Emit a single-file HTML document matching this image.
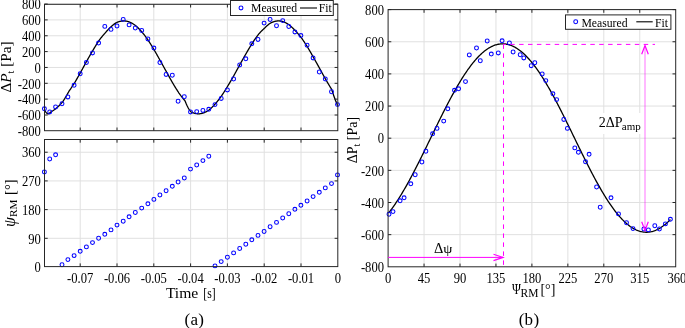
<!DOCTYPE html>
<html><head><meta charset="utf-8"><style>
html,body{margin:0;padding:0;background:#fff;width:685px;height:328px;overflow:hidden}
svg{display:block;will-change:transform;filter:blur(0.3px);}
text{font-family:"Liberation Serif",serif;fill:#000}
</style></head><body>
<svg width="685" height="328" viewBox="0 0 685 328">
<line x1="44.50" y1="115.00" x2="337.80" y2="115.00" stroke="#e0e0e0" stroke-width="1" />
<line x1="44.50" y1="99.15" x2="337.80" y2="99.15" stroke="#e0e0e0" stroke-width="1" />
<line x1="44.50" y1="83.30" x2="337.80" y2="83.30" stroke="#e0e0e0" stroke-width="1" />
<line x1="44.50" y1="67.45" x2="337.80" y2="67.45" stroke="#e0e0e0" stroke-width="1" />
<line x1="44.50" y1="51.60" x2="337.80" y2="51.60" stroke="#e0e0e0" stroke-width="1" />
<line x1="44.50" y1="35.75" x2="337.80" y2="35.75" stroke="#e0e0e0" stroke-width="1" />
<line x1="44.50" y1="19.90" x2="337.80" y2="19.90" stroke="#e0e0e0" stroke-width="1" />
<line x1="44.50" y1="4.05" x2="337.80" y2="4.05" stroke="#e0e0e0" stroke-width="1" />
<line x1="80.20" y1="4.30" x2="80.20" y2="130.70" stroke="#e0e0e0" stroke-width="1" />
<line x1="117.00" y1="4.30" x2="117.00" y2="130.70" stroke="#e0e0e0" stroke-width="1" />
<line x1="153.80" y1="4.30" x2="153.80" y2="130.70" stroke="#e0e0e0" stroke-width="1" />
<line x1="190.60" y1="4.30" x2="190.60" y2="130.70" stroke="#e0e0e0" stroke-width="1" />
<line x1="227.40" y1="4.30" x2="227.40" y2="130.70" stroke="#e0e0e0" stroke-width="1" />
<line x1="264.20" y1="4.30" x2="264.20" y2="130.70" stroke="#e0e0e0" stroke-width="1" />
<line x1="301.00" y1="4.30" x2="301.00" y2="130.70" stroke="#e0e0e0" stroke-width="1" />
<path d="M44.40,109.42 L44.77,110.23 L45.13,110.96 L45.50,111.61 L45.87,112.17 L46.24,112.66 L46.60,113.06 L46.97,113.37 L47.34,113.60 L47.70,113.75 L48.07,113.81 L48.44,113.78 L48.81,113.67 L49.17,113.48 L49.54,113.19 L49.91,112.83 L50.28,112.38 L50.64,111.98 L51.01,111.80 L51.38,111.60 L51.74,111.40 L52.11,111.19 L52.48,110.98 L52.85,110.75 L53.21,110.52 L53.58,110.27 L53.95,110.02 L54.31,109.76 L54.68,109.50 L55.05,109.22 L55.42,108.94 L55.78,108.65 L56.15,108.35 L56.52,108.04 L56.89,107.72 L57.25,107.40 L57.62,107.07 L57.99,106.73 L58.35,106.38 L58.72,106.03 L59.09,105.67 L59.46,105.30 L59.82,104.92 L60.19,104.54 L60.56,104.15 L60.92,103.75 L61.29,103.34 L61.66,102.93 L62.03,102.51 L62.39,102.08 L62.76,101.65 L63.13,101.10 L63.49,100.55 L63.86,99.99 L64.23,99.41 L64.60,98.83 L64.96,98.24 L65.33,97.64 L65.70,97.03 L66.07,96.41 L66.43,95.78 L66.80,95.15 L67.17,94.50 L67.53,93.85 L67.90,93.19 L68.27,92.52 L68.64,91.85 L69.00,91.23 L69.37,90.70 L69.74,90.17 L70.10,89.64 L70.47,89.09 L70.84,88.55 L71.21,88.00 L71.57,87.45 L71.94,86.89 L72.31,86.34 L72.68,85.77 L73.04,85.21 L73.41,84.64 L73.78,84.07 L74.14,83.49 L74.51,82.92 L74.88,82.34 L75.25,81.72 L75.61,81.09 L75.98,80.46 L76.35,79.83 L76.71,79.19 L77.08,78.55 L77.45,77.91 L77.82,77.26 L78.18,76.62 L78.55,75.97 L78.92,75.32 L79.28,74.67 L79.65,74.02 L80.02,73.36 L80.39,72.71 L80.75,72.05 L81.12,71.39 L81.49,70.72 L81.86,70.05 L82.22,69.37 L82.59,68.70 L82.96,68.02 L83.32,67.35 L83.69,66.67 L84.06,66.00 L84.43,65.32 L84.79,64.65 L85.16,63.97 L85.53,63.30 L85.89,62.63 L86.26,61.96 L86.63,61.29 L87.00,60.62 L87.36,59.96 L87.73,59.31 L88.10,58.66 L88.47,58.01 L88.83,57.36 L89.20,56.72 L89.57,56.08 L89.93,55.44 L90.30,54.80 L90.67,54.17 L91.04,53.54 L91.40,52.91 L91.77,52.28 L92.14,51.66 L92.50,51.04 L92.87,50.43 L93.24,49.81 L93.61,49.19 L93.97,48.57 L94.34,47.96 L94.71,47.35 L95.07,46.74 L95.44,46.14 L95.81,45.54 L96.18,44.94 L96.54,44.35 L96.91,43.77 L97.28,43.19 L97.65,42.62 L98.01,42.05 L98.38,41.48 L98.75,40.93 L99.11,40.37 L99.48,39.84 L99.85,39.36 L100.22,38.88 L100.58,38.41 L100.95,37.95 L101.32,37.49 L101.68,37.03 L102.05,36.58 L102.42,36.14 L102.79,35.70 L103.15,35.26 L103.52,34.83 L103.89,34.41 L104.26,33.99 L104.62,33.57 L104.99,33.17 L105.36,32.76 L105.72,32.34 L106.09,31.90 L106.46,31.47 L106.83,31.04 L107.19,30.63 L107.56,30.22 L107.93,29.82 L108.29,29.42 L108.66,29.04 L109.03,28.66 L109.40,28.29 L109.76,27.93 L110.13,27.58 L110.50,27.24 L110.86,26.90 L111.23,26.57 L111.60,26.25 L111.97,25.92 L112.33,25.59 L112.70,25.28 L113.07,24.97 L113.44,24.68 L113.80,24.39 L114.17,24.12 L114.54,23.85 L114.90,23.60 L115.27,23.36 L115.64,23.13 L116.01,22.91 L116.37,22.71 L116.74,22.51 L117.11,22.33 L117.47,22.15 L117.84,22.00 L118.21,21.87 L118.58,21.76 L118.94,21.65 L119.31,21.55 L119.68,21.45 L120.05,21.37 L120.41,21.29 L120.78,21.22 L121.15,21.16 L121.51,21.10 L121.88,21.05 L122.25,21.01 L122.62,20.98 L122.98,20.96 L123.35,20.94 L123.72,20.93 L124.08,20.93 L124.45,20.94 L124.82,20.96 L125.19,20.99 L125.55,21.02 L125.92,21.07 L126.29,21.13 L126.65,21.20 L127.02,21.27 L127.39,21.36 L127.76,21.46 L128.12,21.56 L128.49,21.68 L128.86,21.81 L129.23,21.94 L129.59,22.09 L129.96,22.24 L130.33,22.40 L130.69,22.57 L131.06,22.75 L131.43,22.94 L131.80,23.13 L132.16,23.34 L132.53,23.55 L132.90,23.77 L133.26,24.01 L133.63,24.25 L134.00,24.50 L134.37,24.75 L134.73,25.02 L135.10,25.29 L135.47,25.58 L135.84,25.87 L136.20,26.17 L136.57,26.49 L136.94,26.81 L137.30,27.15 L137.67,27.49 L138.04,27.84 L138.41,28.20 L138.77,28.56 L139.14,28.94 L139.51,29.32 L139.87,29.71 L140.24,30.11 L140.61,30.52 L140.98,30.94 L141.34,31.36 L141.71,31.79 L142.08,32.23 L142.44,32.66 L142.81,33.11 L143.18,33.56 L143.55,34.01 L143.91,34.47 L144.28,34.94 L144.65,35.42 L145.02,35.90 L145.38,36.39 L145.75,36.88 L146.12,37.38 L146.48,37.89 L146.85,38.40 L147.22,38.92 L147.59,39.45 L147.95,39.98 L148.32,40.51 L148.69,41.07 L149.05,41.63 L149.42,42.19 L149.79,42.76 L150.16,43.34 L150.52,43.92 L150.89,44.50 L151.26,45.09 L151.63,45.69 L151.99,46.29 L152.36,46.89 L152.73,47.50 L153.09,48.11 L153.46,48.73 L153.83,49.35 L154.20,49.97 L154.56,50.60 L154.93,51.23 L155.30,51.87 L155.66,52.51 L156.03,53.15 L156.40,53.79 L156.77,54.44 L157.13,55.09 L157.50,55.74 L157.87,56.40 L158.23,57.05 L158.60,57.71 L158.97,58.38 L159.34,59.04 L159.70,59.70 L160.07,60.37 L160.44,61.04 L160.81,61.70 L161.17,62.35 L161.54,63.01 L161.91,63.67 L162.27,64.33 L162.64,64.98 L163.01,65.64 L163.38,66.30 L163.74,66.96 L164.11,67.62 L164.48,68.28 L164.84,68.94 L165.21,69.60 L165.58,70.26 L165.95,70.92 L166.31,71.58 L166.68,72.24 L167.05,72.91 L167.42,73.58 L167.78,74.25 L168.15,74.91 L168.52,75.58 L168.88,76.24 L169.25,76.90 L169.62,77.56 L169.99,78.22 L170.35,78.88 L170.72,79.53 L171.09,80.18 L171.45,80.83 L171.82,81.47 L172.19,82.11 L172.56,82.75 L172.92,83.38 L173.29,84.00 L173.66,84.62 L174.02,85.23 L174.39,85.83 L174.76,86.44 L175.13,87.04 L175.49,87.63 L175.86,88.23 L176.23,88.81 L176.60,89.40 L176.96,89.97 L177.33,90.55 L177.70,91.12 L178.06,91.68 L178.43,92.24 L178.80,92.80 L179.17,93.32 L179.53,93.82 L179.90,94.33 L180.27,94.82 L180.63,95.32 L181.00,95.80 L181.37,96.29 L181.74,96.77 L182.10,97.24 L182.47,97.71 L182.84,98.17 L183.21,98.62 L183.57,99.08 L183.94,99.52 L184.31,99.96 L184.67,100.40 L185.04,100.90 L185.41,101.83 L185.78,102.73 L186.14,103.60 L186.51,104.44 L186.88,105.25 L187.24,106.02 L187.61,106.76 L187.98,107.47 L188.35,108.14 L188.71,108.78 L189.08,109.38 L189.45,109.94 L189.81,110.47 L190.18,110.96 L190.55,111.41 L190.92,111.83 L191.28,112.10 L191.65,112.27 L192.02,112.43 L192.39,112.57 L192.75,112.71 L193.12,112.85 L193.49,112.97 L193.85,113.08 L194.22,113.19 L194.59,113.29 L194.96,113.38 L195.32,113.46 L195.69,113.53 L196.06,113.60 L196.42,113.65 L196.79,113.70 L197.16,113.74 L197.53,113.77 L197.89,113.80 L198.26,113.81 L198.63,113.81 L198.99,113.80 L199.36,113.79 L199.73,113.76 L200.10,113.72 L200.46,113.68 L200.83,113.62 L201.20,113.56 L201.57,113.48 L201.93,113.40 L202.30,113.30 L202.67,113.20 L203.03,113.08 L203.40,112.96 L203.77,112.83 L204.14,112.68 L204.50,112.53 L204.87,112.37 L205.24,112.19 L205.60,112.01 L205.97,111.82 L206.34,111.62 L206.71,111.41 L207.07,111.19 L207.44,110.97 L207.81,110.73 L208.18,110.48 L208.54,110.23 L208.91,109.96 L209.28,109.69 L209.64,109.40 L210.01,109.10 L210.38,108.79 L210.75,108.48 L211.11,108.15 L211.48,107.81 L211.85,107.47 L212.21,107.12 L212.58,106.75 L212.95,106.38 L213.32,106.00 L213.68,105.61 L214.05,105.22 L214.42,104.81 L214.78,104.40 L215.15,103.98 L215.52,103.55 L215.89,103.13 L216.25,102.70 L216.62,102.27 L216.99,101.83 L217.36,101.38 L217.72,100.93 L218.09,100.47 L218.46,100.01 L218.82,99.53 L219.19,99.05 L219.56,98.57 L219.93,98.08 L220.29,97.58 L220.66,97.07 L221.03,96.56 L221.39,96.05 L221.76,95.52 L222.13,94.98 L222.50,94.44 L222.86,93.88 L223.23,93.33 L223.60,92.76 L223.97,92.20 L224.33,91.62 L224.70,91.04 L225.07,90.46 L225.43,89.87 L225.80,89.28 L226.17,88.68 L226.54,88.08 L226.90,87.47 L227.27,86.86 L227.64,86.25 L228.00,85.64 L228.37,85.03 L228.74,84.42 L229.11,83.80 L229.47,83.18 L229.84,82.56 L230.21,81.93 L230.57,81.31 L230.94,80.68 L231.31,80.04 L231.68,79.41 L232.04,78.77 L232.41,78.13 L232.78,77.48 L233.15,76.84 L233.51,76.19 L233.88,75.54 L234.25,74.88 L234.61,74.21 L234.98,73.54 L235.35,72.87 L235.72,72.20 L236.08,71.53 L236.45,70.85 L236.82,70.18 L237.18,69.51 L237.55,68.83 L237.92,68.16 L238.29,67.48 L238.65,66.81 L239.02,66.13 L239.39,65.46 L239.76,64.78 L240.12,64.11 L240.49,63.45 L240.86,62.80 L241.22,62.14 L241.59,61.48 L241.96,60.83 L242.33,60.18 L242.69,59.53 L243.06,58.88 L243.43,58.23 L243.79,57.58 L244.16,56.94 L244.53,56.30 L244.90,55.66 L245.26,55.02 L245.63,54.38 L246.00,53.75 L246.36,53.11 L246.73,52.47 L247.10,51.83 L247.47,51.20 L247.83,50.57 L248.20,49.94 L248.57,49.32 L248.94,48.70 L249.30,48.08 L249.67,47.47 L250.04,46.86 L250.40,46.25 L250.77,45.66 L251.14,45.06 L251.51,44.47 L251.87,43.89 L252.24,43.31 L252.61,42.73 L252.97,42.16 L253.34,41.60 L253.71,41.04 L254.08,40.48 L254.44,39.94 L254.81,39.39 L255.18,38.86 L255.55,38.33 L255.91,37.80 L256.28,37.29 L256.65,36.78 L257.01,36.27 L257.38,35.77 L257.75,35.28 L258.12,34.80 L258.48,34.34 L258.85,33.92 L259.22,33.51 L259.58,33.10 L259.95,32.70 L260.32,32.31 L260.69,31.92 L261.05,31.53 L261.42,31.15 L261.79,30.78 L262.15,30.42 L262.52,30.06 L262.89,29.70 L263.26,29.36 L263.62,29.02 L263.99,28.68 L264.36,28.35 L264.73,27.98 L265.09,27.59 L265.46,27.22 L265.83,26.85 L266.19,26.50 L266.56,26.15 L266.93,25.82 L267.30,25.50 L267.66,25.18 L268.03,24.88 L268.40,24.59 L268.76,24.31 L269.13,24.04 L269.50,23.78 L269.87,23.53 L270.23,23.29 L270.60,23.07 L270.97,22.87 L271.34,22.69 L271.70,22.51 L272.07,22.35 L272.44,22.19 L272.80,22.04 L273.17,21.90 L273.54,21.77 L273.91,21.65 L274.27,21.54 L274.64,21.44 L275.01,21.35 L275.37,21.26 L275.74,21.19 L276.11,21.12 L276.48,21.07 L276.84,21.02 L277.21,20.98 L277.58,20.96 L277.94,20.94 L278.31,20.93 L278.68,20.93 L279.05,20.94 L279.41,20.97 L279.78,21.00 L280.15,21.04 L280.52,21.09 L280.88,21.15 L281.25,21.22 L281.62,21.30 L281.98,21.39 L282.35,21.49 L282.72,21.60 L283.09,21.72 L283.45,21.84 L283.82,21.98 L284.19,22.12 L284.55,22.27 L284.92,22.43 L285.29,22.61 L285.66,22.79 L286.02,22.98 L286.39,23.17 L286.76,23.38 L287.13,23.60 L287.49,23.82 L287.86,24.06 L288.23,24.30 L288.59,24.55 L288.96,24.81 L289.33,25.08 L289.70,25.37 L290.06,25.66 L290.43,25.96 L290.80,26.27 L291.16,26.59 L291.53,26.92 L291.90,27.25 L292.27,27.60 L292.63,27.95 L293.00,28.31 L293.37,28.68 L293.73,29.06 L294.10,29.45 L294.47,29.84 L294.84,30.24 L295.20,30.63 L295.57,31.01 L295.94,31.39 L296.31,31.79 L296.67,32.18 L297.04,32.59 L297.41,33.00 L297.77,33.41 L298.14,33.83 L298.51,34.26 L298.88,34.70 L299.24,35.13 L299.61,35.58 L299.98,36.03 L300.34,36.49 L300.71,36.95 L301.08,37.41 L301.45,37.92 L301.81,38.43 L302.18,38.95 L302.55,39.47 L302.92,40.00 L303.28,40.54 L303.65,41.08 L304.02,41.63 L304.38,42.18 L304.75,42.74 L305.12,43.30 L305.49,43.86 L305.85,44.44 L306.22,45.01 L306.59,45.59 L306.95,46.18 L307.32,46.77 L307.69,47.38 L308.06,47.99 L308.42,48.61 L308.79,49.23 L309.16,49.85 L309.52,50.48 L309.89,51.11 L310.26,51.74 L310.63,52.38 L310.99,53.02 L311.36,53.66 L311.73,54.31 L312.10,54.96 L312.46,55.61 L312.83,56.27 L313.20,56.92 L313.56,57.57 L313.93,58.22 L314.30,58.87 L314.67,59.52 L315.03,60.17 L315.40,60.82 L315.77,61.48 L316.13,62.13 L316.50,62.79 L316.87,63.44 L317.24,64.10 L317.60,64.76 L317.97,65.42 L318.34,66.08 L318.71,66.74 L319.07,67.40 L319.44,68.06 L319.81,68.73 L320.17,69.41 L320.54,70.08 L320.91,70.76 L321.28,71.43 L321.64,72.10 L322.01,72.77 L322.38,73.44 L322.74,74.11 L323.11,74.78 L323.48,75.45 L323.85,76.11 L324.21,76.77 L324.58,77.43 L324.95,78.09 L325.31,78.75 L325.68,79.40 L326.05,80.03 L326.42,80.67 L326.78,81.30 L327.15,81.92 L327.52,82.55 L327.89,83.17 L328.25,83.79 L328.62,84.41 L328.99,85.02 L329.35,85.63 L329.72,86.23 L330.09,86.83 L330.46,87.43 L330.82,88.02 L331.19,88.61 L331.56,89.20 L331.92,90.16 L332.29,91.31 L332.66,92.45 L333.03,93.56 L333.39,94.65 L333.76,95.72 L334.13,96.77 L334.50,97.79 L334.86,98.79 L335.23,99.76 L335.60,100.70 L335.96,101.62 L336.33,102.50 L336.70,103.36 L337.07,104.19 L337.43,104.99 L337.80,105.76" fill="none" stroke="#000" stroke-width="1.3" stroke-linejoin="round"/>
<circle cx="44.40" cy="108.80" r="1.95" fill="none" stroke="#0000ff" stroke-width="1.05"/>
<circle cx="49.70" cy="111.90" r="1.95" fill="none" stroke="#0000ff" stroke-width="1.05"/>
<circle cx="55.60" cy="107.00" r="1.95" fill="none" stroke="#0000ff" stroke-width="1.05"/>
<circle cx="62.00" cy="103.70" r="1.95" fill="none" stroke="#0000ff" stroke-width="1.05"/>
<circle cx="67.90" cy="96.90" r="1.95" fill="none" stroke="#0000ff" stroke-width="1.05"/>
<circle cx="74.10" cy="85.30" r="1.95" fill="none" stroke="#0000ff" stroke-width="1.05"/>
<circle cx="80.20" cy="73.80" r="1.95" fill="none" stroke="#0000ff" stroke-width="1.05"/>
<circle cx="86.40" cy="62.60" r="1.95" fill="none" stroke="#0000ff" stroke-width="1.05"/>
<circle cx="92.50" cy="52.90" r="1.95" fill="none" stroke="#0000ff" stroke-width="1.05"/>
<circle cx="98.60" cy="43.10" r="1.95" fill="none" stroke="#0000ff" stroke-width="1.05"/>
<circle cx="104.80" cy="26.40" r="1.95" fill="none" stroke="#0000ff" stroke-width="1.05"/>
<circle cx="111.00" cy="29.40" r="1.95" fill="none" stroke="#0000ff" stroke-width="1.05"/>
<circle cx="117.00" cy="26.00" r="1.95" fill="none" stroke="#0000ff" stroke-width="1.05"/>
<circle cx="123.20" cy="19.40" r="1.95" fill="none" stroke="#0000ff" stroke-width="1.05"/>
<circle cx="129.10" cy="24.90" r="1.95" fill="none" stroke="#0000ff" stroke-width="1.05"/>
<circle cx="135.30" cy="28.00" r="1.95" fill="none" stroke="#0000ff" stroke-width="1.05"/>
<circle cx="141.70" cy="30.40" r="1.95" fill="none" stroke="#0000ff" stroke-width="1.05"/>
<circle cx="147.90" cy="38.90" r="1.95" fill="none" stroke="#0000ff" stroke-width="1.05"/>
<circle cx="153.90" cy="48.10" r="1.95" fill="none" stroke="#0000ff" stroke-width="1.05"/>
<circle cx="159.90" cy="62.60" r="1.95" fill="none" stroke="#0000ff" stroke-width="1.05"/>
<circle cx="166.10" cy="74.40" r="1.95" fill="none" stroke="#0000ff" stroke-width="1.05"/>
<circle cx="172.30" cy="75.20" r="1.95" fill="none" stroke="#0000ff" stroke-width="1.05"/>
<circle cx="178.10" cy="101.20" r="1.95" fill="none" stroke="#0000ff" stroke-width="1.05"/>
<circle cx="184.30" cy="96.70" r="1.95" fill="none" stroke="#0000ff" stroke-width="1.05"/>
<circle cx="190.50" cy="111.90" r="1.95" fill="none" stroke="#0000ff" stroke-width="1.05"/>
<circle cx="196.70" cy="111.60" r="1.95" fill="none" stroke="#0000ff" stroke-width="1.05"/>
<circle cx="202.90" cy="110.40" r="1.95" fill="none" stroke="#0000ff" stroke-width="1.05"/>
<circle cx="208.80" cy="109.30" r="1.95" fill="none" stroke="#0000ff" stroke-width="1.05"/>
<circle cx="215.00" cy="104.60" r="1.95" fill="none" stroke="#0000ff" stroke-width="1.05"/>
<circle cx="221.20" cy="98.40" r="1.95" fill="none" stroke="#0000ff" stroke-width="1.05"/>
<circle cx="227.40" cy="89.90" r="1.95" fill="none" stroke="#0000ff" stroke-width="1.05"/>
<circle cx="233.60" cy="79.00" r="1.95" fill="none" stroke="#0000ff" stroke-width="1.05"/>
<circle cx="239.70" cy="65.00" r="1.95" fill="none" stroke="#0000ff" stroke-width="1.05"/>
<circle cx="245.80" cy="58.80" r="1.95" fill="none" stroke="#0000ff" stroke-width="1.05"/>
<circle cx="251.80" cy="43.80" r="1.95" fill="none" stroke="#0000ff" stroke-width="1.05"/>
<circle cx="258.00" cy="39.40" r="1.95" fill="none" stroke="#0000ff" stroke-width="1.05"/>
<circle cx="264.10" cy="23.10" r="1.95" fill="none" stroke="#0000ff" stroke-width="1.05"/>
<circle cx="270.10" cy="19.50" r="1.95" fill="none" stroke="#0000ff" stroke-width="1.05"/>
<circle cx="276.50" cy="25.70" r="1.95" fill="none" stroke="#0000ff" stroke-width="1.05"/>
<circle cx="282.70" cy="20.60" r="1.95" fill="none" stroke="#0000ff" stroke-width="1.05"/>
<circle cx="288.80" cy="26.50" r="1.95" fill="none" stroke="#0000ff" stroke-width="1.05"/>
<circle cx="294.90" cy="31.90" r="1.95" fill="none" stroke="#0000ff" stroke-width="1.05"/>
<circle cx="300.90" cy="35.60" r="1.95" fill="none" stroke="#0000ff" stroke-width="1.05"/>
<circle cx="307.10" cy="45.20" r="1.95" fill="none" stroke="#0000ff" stroke-width="1.05"/>
<circle cx="313.10" cy="57.90" r="1.95" fill="none" stroke="#0000ff" stroke-width="1.05"/>
<circle cx="319.30" cy="72.00" r="1.95" fill="none" stroke="#0000ff" stroke-width="1.05"/>
<circle cx="325.30" cy="79.00" r="1.95" fill="none" stroke="#0000ff" stroke-width="1.05"/>
<circle cx="331.50" cy="91.70" r="1.95" fill="none" stroke="#0000ff" stroke-width="1.05"/>
<circle cx="337.50" cy="104.60" r="1.95" fill="none" stroke="#0000ff" stroke-width="1.05"/>
<line x1="44.50" y1="115.00" x2="47.70" y2="115.00" stroke="#262626" stroke-width="1" />
<line x1="334.60" y1="115.00" x2="337.80" y2="115.00" stroke="#262626" stroke-width="1" />
<line x1="44.50" y1="99.15" x2="47.70" y2="99.15" stroke="#262626" stroke-width="1" />
<line x1="334.60" y1="99.15" x2="337.80" y2="99.15" stroke="#262626" stroke-width="1" />
<line x1="44.50" y1="83.30" x2="47.70" y2="83.30" stroke="#262626" stroke-width="1" />
<line x1="334.60" y1="83.30" x2="337.80" y2="83.30" stroke="#262626" stroke-width="1" />
<line x1="44.50" y1="67.45" x2="47.70" y2="67.45" stroke="#262626" stroke-width="1" />
<line x1="334.60" y1="67.45" x2="337.80" y2="67.45" stroke="#262626" stroke-width="1" />
<line x1="44.50" y1="51.60" x2="47.70" y2="51.60" stroke="#262626" stroke-width="1" />
<line x1="334.60" y1="51.60" x2="337.80" y2="51.60" stroke="#262626" stroke-width="1" />
<line x1="44.50" y1="35.75" x2="47.70" y2="35.75" stroke="#262626" stroke-width="1" />
<line x1="334.60" y1="35.75" x2="337.80" y2="35.75" stroke="#262626" stroke-width="1" />
<line x1="44.50" y1="19.90" x2="47.70" y2="19.90" stroke="#262626" stroke-width="1" />
<line x1="334.60" y1="19.90" x2="337.80" y2="19.90" stroke="#262626" stroke-width="1" />
<line x1="44.50" y1="4.05" x2="47.70" y2="4.05" stroke="#262626" stroke-width="1" />
<line x1="334.60" y1="4.05" x2="337.80" y2="4.05" stroke="#262626" stroke-width="1" />
<line x1="80.20" y1="130.70" x2="80.20" y2="127.50" stroke="#262626" stroke-width="1" />
<line x1="80.20" y1="4.30" x2="80.20" y2="7.50" stroke="#262626" stroke-width="1" />
<line x1="117.00" y1="130.70" x2="117.00" y2="127.50" stroke="#262626" stroke-width="1" />
<line x1="117.00" y1="4.30" x2="117.00" y2="7.50" stroke="#262626" stroke-width="1" />
<line x1="153.80" y1="130.70" x2="153.80" y2="127.50" stroke="#262626" stroke-width="1" />
<line x1="153.80" y1="4.30" x2="153.80" y2="7.50" stroke="#262626" stroke-width="1" />
<line x1="190.60" y1="130.70" x2="190.60" y2="127.50" stroke="#262626" stroke-width="1" />
<line x1="190.60" y1="4.30" x2="190.60" y2="7.50" stroke="#262626" stroke-width="1" />
<line x1="227.40" y1="130.70" x2="227.40" y2="127.50" stroke="#262626" stroke-width="1" />
<line x1="227.40" y1="4.30" x2="227.40" y2="7.50" stroke="#262626" stroke-width="1" />
<line x1="264.20" y1="130.70" x2="264.20" y2="127.50" stroke="#262626" stroke-width="1" />
<line x1="264.20" y1="4.30" x2="264.20" y2="7.50" stroke="#262626" stroke-width="1" />
<line x1="301.00" y1="130.70" x2="301.00" y2="127.50" stroke="#262626" stroke-width="1" />
<line x1="301.00" y1="4.30" x2="301.00" y2="7.50" stroke="#262626" stroke-width="1" />
<rect x="44.5" y="4.3" width="293.30" height="126.40" fill="none" stroke="#262626" stroke-width="1"/>
<rect x="230.5" y="0.5" width="102.8" height="15" fill="#fff" stroke="#262626" stroke-width="1"/>
<circle cx="241.00" cy="7.90" r="1.95" fill="none" stroke="#0000ff" stroke-width="1.05"/>
<line x1="300.00" y1="8.00" x2="317.00" y2="8.00" stroke="#000" stroke-width="1.1" />
<text x="251.00" y="11.80" font-size="11.7" text-anchor="start" >Measured</text>
<text x="318.70" y="11.80" font-size="11.7" text-anchor="start" >Fit</text>
<text transform="translate(40.80,136.05) scale(0.97,1.06)" font-size="13" text-anchor="end">-800</text>
<text transform="translate(40.80,120.20) scale(0.97,1.06)" font-size="13" text-anchor="end">-600</text>
<text transform="translate(40.80,104.35) scale(0.97,1.06)" font-size="13" text-anchor="end">-400</text>
<text transform="translate(40.80,88.50) scale(0.97,1.06)" font-size="13" text-anchor="end">-200</text>
<text transform="translate(40.80,72.65) scale(0.97,1.06)" font-size="13" text-anchor="end">0</text>
<text transform="translate(40.80,56.80) scale(0.97,1.06)" font-size="13" text-anchor="end">200</text>
<text transform="translate(40.80,40.95) scale(0.97,1.06)" font-size="13" text-anchor="end">400</text>
<text transform="translate(40.80,25.10) scale(0.97,1.06)" font-size="13" text-anchor="end">600</text>
<text transform="translate(40.80,9.25) scale(0.97,1.06)" font-size="13" text-anchor="end">800</text>
<text transform="translate(11.2,67.0) rotate(-90)" font-size="15.2" text-anchor="middle">&#916;<tspan font-style="italic">P</tspan><tspan font-size="10" dy="2.5">t</tspan><tspan dy="-2.5"> [Pa]</tspan></text>
<line x1="44.50" y1="238.31" x2="337.80" y2="238.31" stroke="#e0e0e0" stroke-width="1" />
<line x1="44.50" y1="209.62" x2="337.80" y2="209.62" stroke="#e0e0e0" stroke-width="1" />
<line x1="44.50" y1="180.92" x2="337.80" y2="180.92" stroke="#e0e0e0" stroke-width="1" />
<line x1="44.50" y1="152.23" x2="337.80" y2="152.23" stroke="#e0e0e0" stroke-width="1" />
<line x1="80.20" y1="139.50" x2="80.20" y2="266.60" stroke="#e0e0e0" stroke-width="1" />
<line x1="117.00" y1="139.50" x2="117.00" y2="266.60" stroke="#e0e0e0" stroke-width="1" />
<line x1="153.80" y1="139.50" x2="153.80" y2="266.60" stroke="#e0e0e0" stroke-width="1" />
<line x1="190.60" y1="139.50" x2="190.60" y2="266.60" stroke="#e0e0e0" stroke-width="1" />
<line x1="227.40" y1="139.50" x2="227.40" y2="266.60" stroke="#e0e0e0" stroke-width="1" />
<line x1="264.20" y1="139.50" x2="264.20" y2="266.60" stroke="#e0e0e0" stroke-width="1" />
<line x1="301.00" y1="139.50" x2="301.00" y2="266.60" stroke="#e0e0e0" stroke-width="1" />
<circle cx="44.40" cy="172.00" r="1.95" fill="none" stroke="#0000ff" stroke-width="1.05"/>
<circle cx="49.70" cy="159.00" r="1.95" fill="none" stroke="#0000ff" stroke-width="1.05"/>
<circle cx="55.60" cy="154.80" r="1.95" fill="none" stroke="#0000ff" stroke-width="1.05"/>
<circle cx="62.00" cy="264.80" r="1.95" fill="none" stroke="#0000ff" stroke-width="1.05"/>
<circle cx="67.90" cy="259.60" r="1.95" fill="none" stroke="#0000ff" stroke-width="1.05"/>
<circle cx="74.10" cy="255.60" r="1.95" fill="none" stroke="#0000ff" stroke-width="1.05"/>
<circle cx="80.20" cy="251.30" r="1.95" fill="none" stroke="#0000ff" stroke-width="1.05"/>
<circle cx="86.40" cy="246.90" r="1.95" fill="none" stroke="#0000ff" stroke-width="1.05"/>
<circle cx="92.50" cy="242.60" r="1.95" fill="none" stroke="#0000ff" stroke-width="1.05"/>
<circle cx="98.60" cy="238.20" r="1.95" fill="none" stroke="#0000ff" stroke-width="1.05"/>
<circle cx="104.80" cy="234.30" r="1.95" fill="none" stroke="#0000ff" stroke-width="1.05"/>
<circle cx="111.00" cy="229.90" r="1.95" fill="none" stroke="#0000ff" stroke-width="1.05"/>
<circle cx="117.00" cy="225.10" r="1.95" fill="none" stroke="#0000ff" stroke-width="1.05"/>
<circle cx="123.20" cy="221.20" r="1.95" fill="none" stroke="#0000ff" stroke-width="1.05"/>
<circle cx="129.10" cy="216.80" r="1.95" fill="none" stroke="#0000ff" stroke-width="1.05"/>
<circle cx="135.30" cy="212.50" r="1.95" fill="none" stroke="#0000ff" stroke-width="1.05"/>
<circle cx="141.70" cy="208.10" r="1.95" fill="none" stroke="#0000ff" stroke-width="1.05"/>
<circle cx="147.90" cy="203.80" r="1.95" fill="none" stroke="#0000ff" stroke-width="1.05"/>
<circle cx="153.90" cy="199.40" r="1.95" fill="none" stroke="#0000ff" stroke-width="1.05"/>
<circle cx="159.90" cy="195.00" r="1.95" fill="none" stroke="#0000ff" stroke-width="1.05"/>
<circle cx="166.10" cy="190.70" r="1.95" fill="none" stroke="#0000ff" stroke-width="1.05"/>
<circle cx="172.30" cy="186.30" r="1.95" fill="none" stroke="#0000ff" stroke-width="1.05"/>
<circle cx="178.10" cy="182.00" r="1.95" fill="none" stroke="#0000ff" stroke-width="1.05"/>
<circle cx="184.30" cy="178.00" r="1.95" fill="none" stroke="#0000ff" stroke-width="1.05"/>
<circle cx="190.50" cy="169.10" r="1.95" fill="none" stroke="#0000ff" stroke-width="1.05"/>
<circle cx="196.70" cy="165.00" r="1.95" fill="none" stroke="#0000ff" stroke-width="1.05"/>
<circle cx="202.90" cy="160.60" r="1.95" fill="none" stroke="#0000ff" stroke-width="1.05"/>
<circle cx="208.80" cy="156.20" r="1.95" fill="none" stroke="#0000ff" stroke-width="1.05"/>
<circle cx="215.00" cy="265.90" r="1.95" fill="none" stroke="#0000ff" stroke-width="1.05"/>
<circle cx="221.20" cy="261.60" r="1.95" fill="none" stroke="#0000ff" stroke-width="1.05"/>
<circle cx="227.40" cy="257.20" r="1.95" fill="none" stroke="#0000ff" stroke-width="1.05"/>
<circle cx="233.60" cy="252.90" r="1.95" fill="none" stroke="#0000ff" stroke-width="1.05"/>
<circle cx="239.70" cy="248.50" r="1.95" fill="none" stroke="#0000ff" stroke-width="1.05"/>
<circle cx="245.80" cy="244.20" r="1.95" fill="none" stroke="#0000ff" stroke-width="1.05"/>
<circle cx="251.80" cy="239.80" r="1.95" fill="none" stroke="#0000ff" stroke-width="1.05"/>
<circle cx="258.00" cy="235.40" r="1.95" fill="none" stroke="#0000ff" stroke-width="1.05"/>
<circle cx="264.10" cy="231.50" r="1.95" fill="none" stroke="#0000ff" stroke-width="1.05"/>
<circle cx="270.10" cy="226.70" r="1.95" fill="none" stroke="#0000ff" stroke-width="1.05"/>
<circle cx="276.50" cy="222.40" r="1.95" fill="none" stroke="#0000ff" stroke-width="1.05"/>
<circle cx="282.70" cy="218.00" r="1.95" fill="none" stroke="#0000ff" stroke-width="1.05"/>
<circle cx="288.80" cy="213.70" r="1.95" fill="none" stroke="#0000ff" stroke-width="1.05"/>
<circle cx="294.90" cy="209.30" r="1.95" fill="none" stroke="#0000ff" stroke-width="1.05"/>
<circle cx="300.90" cy="205.30" r="1.95" fill="none" stroke="#0000ff" stroke-width="1.05"/>
<circle cx="307.10" cy="201.00" r="1.95" fill="none" stroke="#0000ff" stroke-width="1.05"/>
<circle cx="313.10" cy="196.60" r="1.95" fill="none" stroke="#0000ff" stroke-width="1.05"/>
<circle cx="319.30" cy="192.30" r="1.95" fill="none" stroke="#0000ff" stroke-width="1.05"/>
<circle cx="325.30" cy="187.90" r="1.95" fill="none" stroke="#0000ff" stroke-width="1.05"/>
<circle cx="331.50" cy="183.60" r="1.95" fill="none" stroke="#0000ff" stroke-width="1.05"/>
<circle cx="337.50" cy="174.90" r="1.95" fill="none" stroke="#0000ff" stroke-width="1.05"/>
<line x1="44.50" y1="238.31" x2="47.70" y2="238.31" stroke="#262626" stroke-width="1" />
<line x1="334.60" y1="238.31" x2="337.80" y2="238.31" stroke="#262626" stroke-width="1" />
<line x1="44.50" y1="209.62" x2="47.70" y2="209.62" stroke="#262626" stroke-width="1" />
<line x1="334.60" y1="209.62" x2="337.80" y2="209.62" stroke="#262626" stroke-width="1" />
<line x1="44.50" y1="180.92" x2="47.70" y2="180.92" stroke="#262626" stroke-width="1" />
<line x1="334.60" y1="180.92" x2="337.80" y2="180.92" stroke="#262626" stroke-width="1" />
<line x1="44.50" y1="152.23" x2="47.70" y2="152.23" stroke="#262626" stroke-width="1" />
<line x1="334.60" y1="152.23" x2="337.80" y2="152.23" stroke="#262626" stroke-width="1" />
<line x1="80.20" y1="266.60" x2="80.20" y2="263.40" stroke="#262626" stroke-width="1" />
<line x1="80.20" y1="139.50" x2="80.20" y2="142.70" stroke="#262626" stroke-width="1" />
<line x1="117.00" y1="266.60" x2="117.00" y2="263.40" stroke="#262626" stroke-width="1" />
<line x1="117.00" y1="139.50" x2="117.00" y2="142.70" stroke="#262626" stroke-width="1" />
<line x1="153.80" y1="266.60" x2="153.80" y2="263.40" stroke="#262626" stroke-width="1" />
<line x1="153.80" y1="139.50" x2="153.80" y2="142.70" stroke="#262626" stroke-width="1" />
<line x1="190.60" y1="266.60" x2="190.60" y2="263.40" stroke="#262626" stroke-width="1" />
<line x1="190.60" y1="139.50" x2="190.60" y2="142.70" stroke="#262626" stroke-width="1" />
<line x1="227.40" y1="266.60" x2="227.40" y2="263.40" stroke="#262626" stroke-width="1" />
<line x1="227.40" y1="139.50" x2="227.40" y2="142.70" stroke="#262626" stroke-width="1" />
<line x1="264.20" y1="266.60" x2="264.20" y2="263.40" stroke="#262626" stroke-width="1" />
<line x1="264.20" y1="139.50" x2="264.20" y2="142.70" stroke="#262626" stroke-width="1" />
<line x1="301.00" y1="266.60" x2="301.00" y2="263.40" stroke="#262626" stroke-width="1" />
<line x1="301.00" y1="139.50" x2="301.00" y2="142.70" stroke="#262626" stroke-width="1" />
<rect x="44.5" y="139.5" width="293.30" height="127.10" fill="none" stroke="#262626" stroke-width="1"/>
<text transform="translate(40.80,272.20) scale(0.97,1.06)" font-size="13" text-anchor="end">0</text>
<text transform="translate(40.80,243.51) scale(0.97,1.06)" font-size="13" text-anchor="end">90</text>
<text transform="translate(40.80,214.82) scale(0.97,1.06)" font-size="13" text-anchor="end">180</text>
<text transform="translate(40.80,186.12) scale(0.97,1.06)" font-size="13" text-anchor="end">270</text>
<text transform="translate(40.80,157.43) scale(0.97,1.06)" font-size="13" text-anchor="end">360</text>
<text transform="translate(80.20,282.60) scale(0.97,1.06)" font-size="13" text-anchor="middle">-0.07</text>
<text transform="translate(117.00,282.60) scale(0.97,1.06)" font-size="13" text-anchor="middle">-0.06</text>
<text transform="translate(153.80,282.60) scale(0.97,1.06)" font-size="13" text-anchor="middle">-0.05</text>
<text transform="translate(190.60,282.60) scale(0.97,1.06)" font-size="13" text-anchor="middle">-0.04</text>
<text transform="translate(227.40,282.60) scale(0.97,1.06)" font-size="13" text-anchor="middle">-0.03</text>
<text transform="translate(264.20,282.60) scale(0.97,1.06)" font-size="13" text-anchor="middle">-0.02</text>
<text transform="translate(301.00,282.60) scale(0.97,1.06)" font-size="13" text-anchor="middle">-0.01</text>
<text transform="translate(337.80,282.60) scale(0.97,1.06)" font-size="13" text-anchor="middle">0</text>
<text x="165.9" y="297.8" font-size="14" textLength="32.4" lengthAdjust="spacingAndGlyphs">Time</text>
<text x="203.3" y="297.8" font-size="14" textLength="12.4" lengthAdjust="spacingAndGlyphs">[s]</text>
<text transform="translate(14.6,203.2) rotate(-90)" font-size="14.5" text-anchor="middle"><tspan font-style="italic" font-size="16">&#968;</tspan><tspan font-size="11.2" dy="2.5">RM</tspan><tspan dy="-2.5" dx="1"> [&#176;]</tspan></text>
<text x="194.40" y="324.60" font-size="17" text-anchor="middle" letter-spacing="0.3">(a)</text>
<line x1="388.10" y1="234.65" x2="675.70" y2="234.65" stroke="#e0e0e0" stroke-width="1" />
<line x1="388.10" y1="202.50" x2="675.70" y2="202.50" stroke="#e0e0e0" stroke-width="1" />
<line x1="388.10" y1="170.35" x2="675.70" y2="170.35" stroke="#e0e0e0" stroke-width="1" />
<line x1="388.10" y1="138.20" x2="675.70" y2="138.20" stroke="#e0e0e0" stroke-width="1" />
<line x1="388.10" y1="106.05" x2="675.70" y2="106.05" stroke="#e0e0e0" stroke-width="1" />
<line x1="388.10" y1="73.90" x2="675.70" y2="73.90" stroke="#e0e0e0" stroke-width="1" />
<line x1="388.10" y1="41.75" x2="675.70" y2="41.75" stroke="#e0e0e0" stroke-width="1" />
<line x1="388.10" y1="9.60" x2="675.70" y2="9.60" stroke="#e0e0e0" stroke-width="1" />
<line x1="424.05" y1="9.60" x2="424.05" y2="266.80" stroke="#e0e0e0" stroke-width="1" />
<line x1="460.00" y1="9.60" x2="460.00" y2="266.80" stroke="#e0e0e0" stroke-width="1" />
<line x1="495.95" y1="9.60" x2="495.95" y2="266.80" stroke="#e0e0e0" stroke-width="1" />
<line x1="531.90" y1="9.60" x2="531.90" y2="266.80" stroke="#e0e0e0" stroke-width="1" />
<line x1="567.85" y1="9.60" x2="567.85" y2="266.80" stroke="#e0e0e0" stroke-width="1" />
<line x1="603.80" y1="9.60" x2="603.80" y2="266.80" stroke="#e0e0e0" stroke-width="1" />
<line x1="639.75" y1="9.60" x2="639.75" y2="266.80" stroke="#e0e0e0" stroke-width="1" />
<path d="M388.98,212.47 L389.68,211.57 L390.39,210.66 L391.09,209.72 L391.80,208.77 L392.51,207.81 L393.21,206.82 L393.92,205.82 L394.62,204.81 L395.33,203.77 L396.03,202.73 L396.74,201.66 L397.44,200.59 L398.15,199.49 L398.85,198.39 L399.56,197.26 L400.26,196.13 L400.97,194.98 L401.68,193.82 L402.38,192.64 L403.09,191.45 L403.79,190.25 L404.50,189.03 L405.20,187.81 L405.91,186.57 L406.61,185.32 L407.32,184.06 L408.02,182.79 L408.73,181.50 L409.43,180.21 L410.14,178.91 L410.85,177.59 L411.55,176.27 L412.26,174.94 L412.96,173.60 L413.67,172.25 L414.37,170.90 L415.08,169.53 L415.78,168.16 L416.49,166.78 L417.19,165.39 L417.90,164.00 L418.60,162.60 L419.31,161.20 L420.02,159.79 L420.72,158.37 L421.43,156.95 L422.13,155.53 L422.84,154.10 L423.54,152.67 L424.25,151.23 L424.95,149.80 L425.66,148.35 L426.36,146.91 L427.07,145.46 L427.77,144.02 L428.48,142.57 L429.19,141.12 L429.89,139.66 L430.60,138.21 L431.30,136.76 L432.01,135.31 L432.71,133.86 L433.42,132.41 L434.12,130.96 L434.83,129.51 L435.53,128.07 L436.24,126.63 L436.94,125.19 L437.65,123.75 L438.36,122.32 L439.06,120.89 L439.77,119.46 L440.47,118.04 L441.18,116.63 L441.88,115.22 L442.59,113.81 L443.29,112.41 L444.00,111.02 L444.70,109.63 L445.41,108.25 L446.11,106.87 L446.82,105.51 L447.53,104.15 L448.23,102.80 L448.94,101.46 L449.64,100.12 L450.35,98.80 L451.05,97.48 L451.76,96.18 L452.46,94.88 L453.17,93.60 L453.87,92.32 L454.58,91.06 L455.28,89.81 L455.99,88.57 L456.70,87.34 L457.40,86.12 L458.11,84.91 L458.81,83.72 L459.52,82.54 L460.22,81.38 L460.93,80.22 L461.63,79.08 L462.34,77.96 L463.04,76.85 L463.75,75.75 L464.45,74.67 L465.16,73.60 L465.87,72.55 L466.57,71.52 L467.28,70.50 L467.98,69.49 L468.69,68.51 L469.39,67.53 L470.10,66.58 L470.80,65.64 L471.51,64.72 L472.21,63.82 L472.92,62.94 L473.62,62.07 L474.33,61.22 L475.04,60.39 L475.74,59.58 L476.45,58.78 L477.15,58.01 L477.86,57.25 L478.56,56.51 L479.27,55.80 L479.97,55.10 L480.68,54.42 L481.38,53.76 L482.09,53.12 L482.79,52.50 L483.50,51.91 L484.21,51.33 L484.91,50.77 L485.62,50.24 L486.32,49.72 L487.03,49.23 L487.73,48.75 L488.44,48.30 L489.14,47.87 L489.85,47.46 L490.55,47.07 L491.26,46.71 L491.96,46.36 L492.67,46.04 L493.38,45.74 L494.08,45.46 L494.79,45.20 L495.49,44.97 L496.20,44.75 L496.90,44.56 L497.61,44.40 L498.31,44.25 L499.02,44.12 L499.72,44.02 L500.43,43.94 L501.13,43.89 L501.84,43.85 L502.55,43.84 L503.25,43.85 L503.96,43.88 L504.66,43.94 L505.37,44.01 L506.07,44.11 L506.78,44.24 L507.48,44.38 L508.19,44.55 L508.89,44.73 L509.60,44.95 L510.30,45.18 L511.01,45.43 L511.72,45.71 L512.42,46.01 L513.13,46.33 L513.83,46.67 L514.54,47.04 L515.24,47.42 L515.95,47.83 L516.65,48.26 L517.36,48.71 L518.06,49.18 L518.77,49.67 L519.47,50.18 L520.18,50.72 L520.89,51.27 L521.59,51.85 L522.30,52.44 L523.00,53.06 L523.71,53.70 L524.41,54.35 L525.12,55.03 L525.82,55.73 L526.53,56.44 L527.23,57.18 L527.94,57.93 L528.64,58.70 L529.35,59.50 L530.06,60.31 L530.76,61.14 L531.47,61.98 L532.17,62.85 L532.88,63.73 L533.58,64.63 L534.29,65.55 L534.99,66.49 L535.70,67.44 L536.40,68.41 L537.11,69.39 L537.81,70.40 L538.52,71.41 L539.23,72.45 L539.93,73.50 L540.64,74.56 L541.34,75.64 L542.05,76.74 L542.75,77.85 L543.46,78.97 L544.16,80.11 L544.87,81.26 L545.57,82.43 L546.28,83.60 L546.98,84.80 L547.69,86.00 L548.40,87.22 L549.10,88.44 L549.81,89.68 L550.51,90.94 L551.22,92.20 L551.92,93.47 L552.63,94.76 L553.33,96.05 L554.04,97.35 L554.74,98.67 L555.45,99.99 L556.15,101.32 L556.86,102.67 L557.57,104.02 L558.27,105.37 L558.98,106.74 L559.68,108.11 L560.39,109.49 L561.09,110.88 L561.80,112.27 L562.50,113.67 L563.21,115.08 L563.91,116.49 L564.62,117.90 L565.32,119.32 L566.03,120.75 L566.74,122.18 L567.44,123.61 L568.15,125.05 L568.85,126.48 L569.56,127.93 L570.26,129.37 L570.97,130.82 L571.67,132.27 L572.38,133.72 L573.08,135.17 L573.79,136.62 L574.49,138.07 L575.20,139.52 L575.91,140.97 L576.61,142.42 L577.32,143.87 L578.02,145.32 L578.73,146.77 L579.43,148.21 L580.14,149.65 L580.84,151.09 L581.55,152.53 L582.25,153.96 L582.96,155.39 L583.66,156.81 L584.37,158.23 L585.08,159.65 L585.78,161.06 L586.49,162.46 L587.19,163.86 L587.90,165.26 L588.60,166.64 L589.31,168.02 L590.01,169.40 L590.72,170.76 L591.42,172.12 L592.13,173.47 L592.83,174.81 L593.54,176.14 L594.25,177.46 L594.95,178.78 L595.66,180.08 L596.36,181.37 L597.07,182.66 L597.77,183.93 L598.48,185.19 L599.18,186.44 L599.89,187.68 L600.59,188.91 L601.30,190.13 L602.01,191.33 L602.71,192.52 L603.42,193.70 L604.12,194.86 L604.83,196.01 L605.53,197.15 L606.24,198.28 L606.94,199.38 L607.65,200.48 L608.35,201.56 L609.06,202.62 L609.76,203.67 L610.47,204.70 L611.18,205.72 L611.88,206.72 L612.59,207.71 L613.29,208.68 L614.00,209.63 L614.70,210.56 L615.41,211.48 L616.11,212.38 L616.82,213.27 L617.52,214.13 L618.23,214.98 L618.93,215.81 L619.64,216.62 L620.35,217.41 L621.05,218.18 L621.76,218.93 L622.46,219.67 L623.17,220.38 L623.87,221.08 L624.58,221.75 L625.28,222.41 L625.99,223.04 L626.69,223.66 L627.40,224.25 L628.10,224.83 L628.81,225.38 L629.52,225.92 L630.22,226.43 L630.93,226.92 L631.63,227.39 L632.34,227.84 L633.04,228.27 L633.75,228.67 L634.45,229.06 L635.16,229.42 L635.86,229.76 L636.57,230.08 L637.27,230.38 L637.98,230.66 L638.69,230.91 L639.39,231.14 L640.10,231.35 L640.80,231.54 L641.51,231.71 L642.21,231.85 L642.92,231.97 L643.62,232.07 L644.33,232.14 L645.03,232.20 L645.74,232.23 L646.44,232.24 L647.15,232.23 L647.86,232.19 L648.56,232.13 L649.27,232.05 L649.97,231.95 L650.68,231.82 L651.38,231.68 L652.09,231.51 L652.79,231.32 L653.50,231.10 L654.20,230.87 L654.91,230.61 L655.61,230.33 L656.32,230.03 L657.03,229.70 L657.73,229.36 L658.44,228.99 L659.14,228.60 L659.85,228.19 L660.55,227.76 L661.26,227.31 L661.96,226.83 L662.67,226.34 L663.37,225.82 L664.08,225.28 L664.78,224.73 L665.49,224.15 L666.20,223.55 L666.90,222.93 L667.61,222.29 L668.31,221.63 L669.02,220.95 L669.72,220.25 L670.43,219.54" fill="none" stroke="#000" stroke-width="1.3"/>
<circle cx="389.00" cy="214.30" r="1.95" fill="none" stroke="#0000ff" stroke-width="1.05"/>
<circle cx="393.00" cy="211.60" r="1.95" fill="none" stroke="#0000ff" stroke-width="1.05"/>
<circle cx="400.10" cy="200.80" r="1.95" fill="none" stroke="#0000ff" stroke-width="1.05"/>
<circle cx="404.10" cy="197.80" r="1.95" fill="none" stroke="#0000ff" stroke-width="1.05"/>
<circle cx="410.80" cy="183.80" r="1.95" fill="none" stroke="#0000ff" stroke-width="1.05"/>
<circle cx="415.20" cy="174.70" r="1.95" fill="none" stroke="#0000ff" stroke-width="1.05"/>
<circle cx="421.90" cy="162.00" r="1.95" fill="none" stroke="#0000ff" stroke-width="1.05"/>
<circle cx="425.90" cy="151.20" r="1.95" fill="none" stroke="#0000ff" stroke-width="1.05"/>
<circle cx="432.60" cy="133.80" r="1.95" fill="none" stroke="#0000ff" stroke-width="1.05"/>
<circle cx="437.00" cy="128.40" r="1.95" fill="none" stroke="#0000ff" stroke-width="1.05"/>
<circle cx="443.70" cy="121.10" r="1.95" fill="none" stroke="#0000ff" stroke-width="1.05"/>
<circle cx="447.80" cy="108.80" r="1.95" fill="none" stroke="#0000ff" stroke-width="1.05"/>
<circle cx="454.50" cy="90.30" r="1.95" fill="none" stroke="#0000ff" stroke-width="1.05"/>
<circle cx="458.60" cy="88.80" r="1.95" fill="none" stroke="#0000ff" stroke-width="1.05"/>
<circle cx="465.50" cy="81.60" r="1.95" fill="none" stroke="#0000ff" stroke-width="1.05"/>
<circle cx="469.30" cy="54.90" r="1.95" fill="none" stroke="#0000ff" stroke-width="1.05"/>
<circle cx="476.50" cy="48.00" r="1.95" fill="none" stroke="#0000ff" stroke-width="1.05"/>
<circle cx="480.30" cy="60.70" r="1.95" fill="none" stroke="#0000ff" stroke-width="1.05"/>
<circle cx="487.20" cy="41.00" r="1.95" fill="none" stroke="#0000ff" stroke-width="1.05"/>
<circle cx="491.30" cy="54.10" r="1.95" fill="none" stroke="#0000ff" stroke-width="1.05"/>
<circle cx="498.30" cy="52.90" r="1.95" fill="none" stroke="#0000ff" stroke-width="1.05"/>
<circle cx="502.10" cy="40.80" r="1.95" fill="none" stroke="#0000ff" stroke-width="1.05"/>
<circle cx="509.40" cy="43.00" r="1.95" fill="none" stroke="#0000ff" stroke-width="1.05"/>
<circle cx="513.10" cy="52.00" r="1.95" fill="none" stroke="#0000ff" stroke-width="1.05"/>
<circle cx="520.20" cy="54.70" r="1.95" fill="none" stroke="#0000ff" stroke-width="1.05"/>
<circle cx="523.80" cy="57.90" r="1.95" fill="none" stroke="#0000ff" stroke-width="1.05"/>
<circle cx="531.20" cy="65.70" r="1.95" fill="none" stroke="#0000ff" stroke-width="1.05"/>
<circle cx="534.80" cy="62.70" r="1.95" fill="none" stroke="#0000ff" stroke-width="1.05"/>
<circle cx="542.20" cy="74.00" r="1.95" fill="none" stroke="#0000ff" stroke-width="1.05"/>
<circle cx="545.80" cy="80.60" r="1.95" fill="none" stroke="#0000ff" stroke-width="1.05"/>
<circle cx="552.90" cy="93.80" r="1.95" fill="none" stroke="#0000ff" stroke-width="1.05"/>
<circle cx="556.60" cy="99.60" r="1.95" fill="none" stroke="#0000ff" stroke-width="1.05"/>
<circle cx="563.80" cy="119.40" r="1.95" fill="none" stroke="#0000ff" stroke-width="1.05"/>
<circle cx="567.40" cy="128.40" r="1.95" fill="none" stroke="#0000ff" stroke-width="1.05"/>
<circle cx="574.80" cy="147.90" r="1.95" fill="none" stroke="#0000ff" stroke-width="1.05"/>
<circle cx="578.40" cy="152.30" r="1.95" fill="none" stroke="#0000ff" stroke-width="1.05"/>
<circle cx="585.50" cy="161.80" r="1.95" fill="none" stroke="#0000ff" stroke-width="1.05"/>
<circle cx="589.10" cy="154.30" r="1.95" fill="none" stroke="#0000ff" stroke-width="1.05"/>
<circle cx="596.60" cy="187.00" r="1.95" fill="none" stroke="#0000ff" stroke-width="1.05"/>
<circle cx="600.20" cy="207.20" r="1.95" fill="none" stroke="#0000ff" stroke-width="1.05"/>
<circle cx="611.00" cy="197.80" r="1.95" fill="none" stroke="#0000ff" stroke-width="1.05"/>
<circle cx="618.50" cy="213.90" r="1.95" fill="none" stroke="#0000ff" stroke-width="1.05"/>
<circle cx="626.50" cy="222.70" r="1.95" fill="none" stroke="#0000ff" stroke-width="1.05"/>
<circle cx="633.00" cy="228.60" r="1.95" fill="none" stroke="#0000ff" stroke-width="1.05"/>
<circle cx="643.90" cy="229.00" r="1.95" fill="none" stroke="#0000ff" stroke-width="1.05"/>
<circle cx="648.40" cy="229.90" r="1.95" fill="none" stroke="#0000ff" stroke-width="1.05"/>
<circle cx="654.80" cy="225.70" r="1.95" fill="none" stroke="#0000ff" stroke-width="1.05"/>
<circle cx="659.40" cy="229.00" r="1.95" fill="none" stroke="#0000ff" stroke-width="1.05"/>
<circle cx="665.40" cy="223.90" r="1.95" fill="none" stroke="#0000ff" stroke-width="1.05"/>
<circle cx="670.40" cy="219.30" r="1.95" fill="none" stroke="#0000ff" stroke-width="1.05"/>
<line x1="388.10" y1="234.65" x2="391.30" y2="234.65" stroke="#262626" stroke-width="1" />
<line x1="672.50" y1="234.65" x2="675.70" y2="234.65" stroke="#262626" stroke-width="1" />
<line x1="388.10" y1="202.50" x2="391.30" y2="202.50" stroke="#262626" stroke-width="1" />
<line x1="672.50" y1="202.50" x2="675.70" y2="202.50" stroke="#262626" stroke-width="1" />
<line x1="388.10" y1="170.35" x2="391.30" y2="170.35" stroke="#262626" stroke-width="1" />
<line x1="672.50" y1="170.35" x2="675.70" y2="170.35" stroke="#262626" stroke-width="1" />
<line x1="388.10" y1="138.20" x2="391.30" y2="138.20" stroke="#262626" stroke-width="1" />
<line x1="672.50" y1="138.20" x2="675.70" y2="138.20" stroke="#262626" stroke-width="1" />
<line x1="388.10" y1="106.05" x2="391.30" y2="106.05" stroke="#262626" stroke-width="1" />
<line x1="672.50" y1="106.05" x2="675.70" y2="106.05" stroke="#262626" stroke-width="1" />
<line x1="388.10" y1="73.90" x2="391.30" y2="73.90" stroke="#262626" stroke-width="1" />
<line x1="672.50" y1="73.90" x2="675.70" y2="73.90" stroke="#262626" stroke-width="1" />
<line x1="388.10" y1="41.75" x2="391.30" y2="41.75" stroke="#262626" stroke-width="1" />
<line x1="672.50" y1="41.75" x2="675.70" y2="41.75" stroke="#262626" stroke-width="1" />
<line x1="388.10" y1="9.60" x2="391.30" y2="9.60" stroke="#262626" stroke-width="1" />
<line x1="672.50" y1="9.60" x2="675.70" y2="9.60" stroke="#262626" stroke-width="1" />
<line x1="424.05" y1="266.80" x2="424.05" y2="263.60" stroke="#262626" stroke-width="1" />
<line x1="424.05" y1="9.60" x2="424.05" y2="12.80" stroke="#262626" stroke-width="1" />
<line x1="460.00" y1="266.80" x2="460.00" y2="263.60" stroke="#262626" stroke-width="1" />
<line x1="460.00" y1="9.60" x2="460.00" y2="12.80" stroke="#262626" stroke-width="1" />
<line x1="495.95" y1="266.80" x2="495.95" y2="263.60" stroke="#262626" stroke-width="1" />
<line x1="495.95" y1="9.60" x2="495.95" y2="12.80" stroke="#262626" stroke-width="1" />
<line x1="531.90" y1="266.80" x2="531.90" y2="263.60" stroke="#262626" stroke-width="1" />
<line x1="531.90" y1="9.60" x2="531.90" y2="12.80" stroke="#262626" stroke-width="1" />
<line x1="567.85" y1="266.80" x2="567.85" y2="263.60" stroke="#262626" stroke-width="1" />
<line x1="567.85" y1="9.60" x2="567.85" y2="12.80" stroke="#262626" stroke-width="1" />
<line x1="603.80" y1="266.80" x2="603.80" y2="263.60" stroke="#262626" stroke-width="1" />
<line x1="603.80" y1="9.60" x2="603.80" y2="12.80" stroke="#262626" stroke-width="1" />
<line x1="639.75" y1="266.80" x2="639.75" y2="263.60" stroke="#262626" stroke-width="1" />
<line x1="639.75" y1="9.60" x2="639.75" y2="12.80" stroke="#262626" stroke-width="1" />
<rect x="388.1" y="9.60" width="287.60" height="257.20" fill="none" stroke="#262626" stroke-width="1"/>
<text transform="translate(384.00,272.00) scale(0.97,1.06)" font-size="13" text-anchor="end">-800</text>
<text transform="translate(384.00,239.85) scale(0.97,1.06)" font-size="13" text-anchor="end">-600</text>
<text transform="translate(384.00,207.70) scale(0.97,1.06)" font-size="13" text-anchor="end">-400</text>
<text transform="translate(384.00,175.55) scale(0.97,1.06)" font-size="13" text-anchor="end">-200</text>
<text transform="translate(384.00,143.40) scale(0.97,1.06)" font-size="13" text-anchor="end">0</text>
<text transform="translate(384.00,111.25) scale(0.97,1.06)" font-size="13" text-anchor="end">200</text>
<text transform="translate(384.00,79.10) scale(0.97,1.06)" font-size="13" text-anchor="end">400</text>
<text transform="translate(384.00,46.95) scale(0.97,1.06)" font-size="13" text-anchor="end">600</text>
<text transform="translate(384.00,14.80) scale(0.97,1.06)" font-size="13" text-anchor="end">800</text>
<text transform="translate(388.10,282.70) scale(0.97,1.06)" font-size="13" text-anchor="middle">0</text>
<text transform="translate(424.05,282.70) scale(0.97,1.06)" font-size="13" text-anchor="middle">45</text>
<text transform="translate(460.00,282.70) scale(0.97,1.06)" font-size="13" text-anchor="middle">90</text>
<text transform="translate(495.95,282.70) scale(0.97,1.06)" font-size="13" text-anchor="middle">135</text>
<text transform="translate(531.90,282.70) scale(0.97,1.06)" font-size="13" text-anchor="middle">180</text>
<text transform="translate(567.85,282.70) scale(0.97,1.06)" font-size="13" text-anchor="middle">225</text>
<text transform="translate(603.80,282.70) scale(0.97,1.06)" font-size="13" text-anchor="middle">270</text>
<text transform="translate(639.75,282.70) scale(0.97,1.06)" font-size="13" text-anchor="middle">315</text>
<text transform="translate(676.90,282.70) scale(0.97,1.06)" font-size="13" text-anchor="middle">360</text>
<line x1="503.50" y1="44.40" x2="655.00" y2="44.40" stroke="#ff00ff" stroke-width="1" stroke-dasharray="4.5 4.4" stroke-dashoffset="2.2"/>
<line x1="503.50" y1="44.40" x2="503.50" y2="266.80" stroke="#ff00ff" stroke-width="1" stroke-dasharray="4.5 4.5"/>
<line x1="645.00" y1="46.00" x2="645.00" y2="230.00" stroke="#ff00ff" stroke-width="1" stroke-opacity="0.55"/>
<polyline points="641.7,54.2 645,45.5 648.3,54.2" fill="none" stroke="#ff00ff" stroke-width="1.2"/>
<polyline points="641.7,221.7 645,230.6 648.3,221.7" fill="none" stroke="#ff00ff" stroke-width="1.2"/>
<line x1="388.10" y1="257.40" x2="503.00" y2="257.40" stroke="#ff00ff" stroke-width="1" />
<polyline points="493.5,254.2 503,257.4 493.5,260.6" fill="none" stroke="#ff00ff" stroke-width="1.2"/>
<rect x="596" y="113" width="46" height="21" fill="#fff"/>
<text x="598.8" y="127" font-size="14">2&#916;P<tspan font-size="11" dx="-0.8" dy="2.6">amp</tspan></text>
<text x="434" y="252.5" font-size="14.5">&#916;</text>
<text transform="translate(443.3,253.3) scale(1.0,0.84)" font-size="14.5">&#968;</text>
<rect x="565.5" y="14.9" width="105.4" height="14.4" fill="#fff" stroke="#262626" stroke-width="1"/>
<circle cx="575.70" cy="21.80" r="1.95" fill="none" stroke="#0000ff" stroke-width="1.05"/>
<line x1="636.30" y1="21.80" x2="652.70" y2="21.80" stroke="#000" stroke-width="1.1" />
<text x="581.40" y="27.20" font-size="11.7" text-anchor="start" >Measured</text>
<text x="654.90" y="27.20" font-size="11.7" text-anchor="start" >Fit</text>
<text transform="translate(357,140) rotate(-90)" font-size="14" text-anchor="middle">&#916;P<tspan font-size="10" dy="2.5">t</tspan><tspan dy="-2.5"> [Pa]</tspan></text>
<text transform="translate(512,293.6) scale(0.86,1)" font-size="14">&#936;</text>
<text x="520.6" y="296.9" font-size="11.5">RM</text>
<text x="540.4" y="293.8" font-size="14">[&#176;]</text>
<text x="529.00" y="324.60" font-size="17" text-anchor="middle" letter-spacing="0.3">(b)</text>
</svg>
</body></html>
